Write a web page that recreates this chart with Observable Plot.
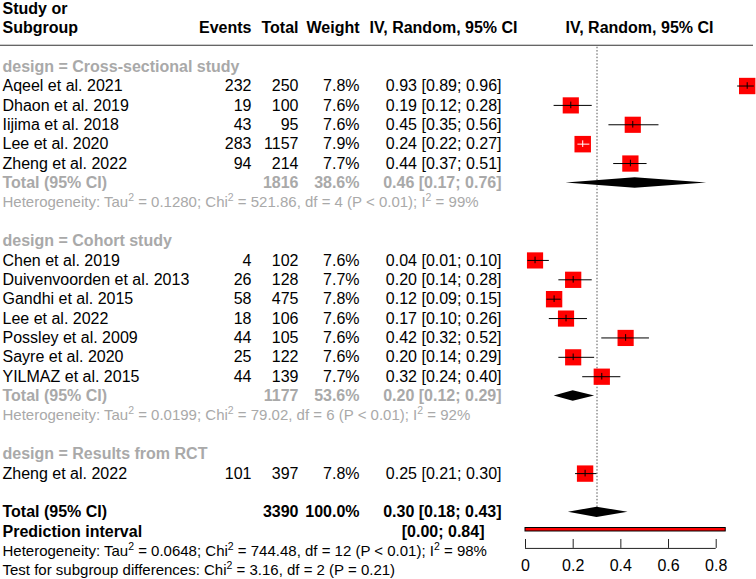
<!DOCTYPE html>
<html><head><meta charset="utf-8">
<script src="https://cdn.jsdelivr.net/npm/d3@7"></script>
<script src="https://cdn.jsdelivr.net/npm/@observablehq/plot@0.6"></script>
<style>body{margin:0;background:#fff;}</style>
</head><body><div id="chart"></div>
<script>
// ---------- data ----------
const groupNames   = ["Cross-sectional study", "Cohort study", "Results from RCT"];
const studyNames   = ["Aqeel et al. 2021", "Dhaon et al. 2019", "Iijima et al. 2018", "Lee et al. 2020", "Zheng et al. 2022",
                      "Chen et al. 2019", "Duivenvoorden et al. 2013", "Gandhi et al. 2015", "Lee et al. 2022", "Possley et al. 2009", "Sayre et al. 2020", "YILMAZ et al. 2015",
                      "Zheng et al. 2022"];
const studyGroup   = [0,0,0,0,0, 1,1,1,1,1,1,1, 2];
const studyEvents  = [232, 19, 43, 283, 94, 4, 26, 58, 18, 44, 25, 44, 101];
const studyTotals  = [250, 100, 95, 1157, 214, 102, 128, 475, 106, 105, 122, 139, 397];
const studyWeights = [7.8, 7.6, 7.6, 7.9, 7.7, 7.6, 7.7, 7.8, 7.6, 7.6, 7.6, 7.7, 7.8];
const studyEst     = [0.93, 0.19, 0.45, 0.24, 0.44, 0.04, 0.20, 0.12, 0.17, 0.42, 0.20, 0.32, 0.25];
const studyLower   = [0.89, 0.12, 0.35, 0.22, 0.37, 0.01, 0.14, 0.09, 0.10, 0.32, 0.14, 0.24, 0.21];
const studyUpper   = [0.96, 0.28, 0.56, 0.27, 0.51, 0.10, 0.28, 0.15, 0.26, 0.52, 0.29, 0.40, 0.30];

const groupTotals  = [1816, 1177];
const groupWeights = [38.6, 53.6];
const groupEst     = [0.46, 0.20];
const groupLower   = [0.17, 0.12];
const groupUpper   = [0.76, 0.29];
const groupTau2    = ["0.1280", "0.0199"];
const groupChi2    = ["521.86", "79.02"];
const groupDf      = [4, 6];
const groupP       = ["< 0.01", "< 0.01"];
const groupI2      = [99, 92];

const overallTotal = 3390, overallWeight = "100.0";
const overallEst = 0.30, overallLower = 0.18, overallUpper = 0.43;
const predLower = 0.00, predUpper = 0.84;
const overallTau2 = "0.0648", overallChi2 = "744.48", overallDf = 12, overallP = "< 0.01", overallI2 = 98;
const testChi2 = "3.16", testDf = 2, testP = "0.21";

const tickValues = [0, 0.2, 0.4, 0.6, 0.8];
const tickLabels = ["0", "0.2", "0.4", "0.6", "0.8"];

// ---------- layout ----------
const GREY = "#a9a9a9";
const COL = {label: 2, events: 251, total: 298, weight: 359, effect: 501, pred: 484, ivHead: 517, plotHead: 639};
const AXIS_ROW = 24.86, TICK_TOP = 24.4, LABEL_ROW = 25.76;
const f2 = v => v.toFixed(2);
const ci = (e, l, u) => `${f2(e)} [${f2(l)}; ${f2(u)}]`;

const cells = [];   // text cells
const studies = []; // plotted studies
const diamonds = [];
const cell = (row, text, col, o = {}) => cells.push({row, text, x: COL[col], anchor: o.anchor || (col === "label" ? "start" : "end"),
  weight: o.weight || "normal", color: o.color || "black", size: o.size || 16});

// headers
cell(-3, "Study or", "label", {weight: "bold"});
cell(-2, "Subgroup", "label", {weight: "bold"});
cell(-2, "Events", "events", {weight: "bold"});
cell(-2, "Total", "total", {weight: "bold"});
cell(-2, "Weight", "weight", {weight: "bold"});
cell(-2, "IV, Random, 95% CI", "ivHead", {weight: "bold"});
cell(-2, "IV, Random, 95% CI", "plotHead", {weight: "bold", anchor: "middle"});

let row = 0;
groupNames.forEach((g, gi) => {
  cell(row, "design = " + g, "label", {weight: "bold", color: GREY});
  row++;
  const idx = studyGroup.map((s, i) => s === gi ? i : -1).filter(i => i >= 0);
  idx.forEach(i => {
    cell(row, studyNames[i], "label");
    cell(row, String(studyEvents[i]), "events");
    cell(row, String(studyTotals[i]), "total");
    cell(row, studyWeights[i].toFixed(1) + "%", "weight");
    cell(row, ci(studyEst[i], studyLower[i], studyUpper[i]), "effect");
    studies.push({row, est: studyEst[i], lower: studyLower[i], upper: studyUpper[i], weight: studyWeights[i]});
    row++;
  });
  if (idx.length > 1) {
    const o = {weight: "bold", color: GREY};
    cell(row, "Total (95% CI)", "label", o);
    cell(row, String(groupTotals[gi]), "total", o);
    cell(row, groupWeights[gi].toFixed(1) + "%", "weight", o);
    cell(row, ci(groupEst[gi], groupLower[gi], groupUpper[gi]), "effect", o);
    diamonds.push({row, est: groupEst[gi], lower: groupLower[gi], upper: groupUpper[gi]});
    row++;
    cell(row, `Heterogeneity: Tau² = ${groupTau2[gi]}; Chi² = ${groupChi2[gi]}, df = ${groupDf[gi]} (P ${groupP[gi]}); I² = ${groupI2[gi]}%`, "label", {color: GREY, size: 15});
    row++;
  }
  row++;
});
const overallRow = row;
cell(row, "Total (95% CI)", "label", {weight: "bold"});
cell(row, String(overallTotal), "total", {weight: "bold"});
cell(row, overallWeight + "%", "weight", {weight: "bold"});
cell(row, ci(overallEst, overallLower, overallUpper), "effect", {weight: "bold"});
diamonds.push({row, est: overallEst, lower: overallLower, upper: overallUpper});
row++;
const predRow = row;
cell(row, "Prediction interval", "label", {weight: "bold"});
cell(row, `[${f2(predLower)}; ${f2(predUpper)}]`, "pred", {weight: "bold"});
row++;
cell(row, `Heterogeneity: Tau² = ${overallTau2}; Chi² = ${overallChi2}, df = ${overallDf} (P ${overallP}); I² = ${overallI2}%`, "label", {size: 15});
row++;
cell(row, `Test for subgroup differences: Chi² = ${testChi2}, df = ${testDf} (P = ${testP})`, "label", {size: 15});

// group text cells into marks
const groups = d3.groups(cells, c => [c.x, c.anchor, c.weight, c.color, c.size].join("|"));
const textMarks = groups.map(([k, arr]) => Plot.text(arr, {
  y: "row", text: "text", frameAnchor: "left", dx: arr[0].x, textAnchor: arr[0].anchor,
  fontWeight: arr[0].weight, fill: arr[0].color, fontSize: arr[0].size, lineAnchor: "middle"
}));

const H = 0.27; // diamond half height (rows)
const diamondPts = diamonds.flatMap((d, i) => [
  {z: i, x: d.lower, y1: d.row, y2: d.row},
  {z: i, x: d.est, y1: d.row - H, y2: d.row + H},
  {z: i, x: d.upper, y1: d.row, y2: d.row}
]);

const plot = Plot.plot({
  width: 756, height: 579,
  marginLeft: 0, marginRight: 3, marginTop: 0, marginBottom: 0,
  x: {domain: [0, 0.8], range: [525, 715.7], axis: null},
  y: {domain: [-3, 26], range: [8, 570], axis: null},
  r: {type: "sqrt", domain: [0, 7.9], range: [0, 9.3]},
  style: {fontFamily: "'Liberation Sans', Arial, sans-serif", fontSize: "16px", background: "white", overflow: "visible"},
  marks: [
    Plot.ruleY([-1], {dy: -2, stroke: "#333", strokeWidth: 1.2}),
    Plot.ruleX([overallEst], {y1: -1, y2: overallRow, stroke: "#555", strokeDasharray: "1.5,1.8"}),
    Plot.dot(studies, {x: "est", y: "row", r: "weight", symbol: "square", fill: "#ff0000", stroke: "none"}),
    Plot.ruleY(studies, {x1: "lower", x2: "upper", y: "row", stroke: d => (d.upper - d.lower < 0.055 ? "white" : "black"), strokeWidth: 1}),
    Plot.ruleX(studies, {x: "est", y1: d => d.row - 0.17, y2: d => d.row + 0.17, stroke: d => (d.upper - d.lower < 0.055 ? "white" : "black"), strokeWidth: 1}),
    Plot.areaY(diamondPts, {x: "x", y1: "y1", y2: "y2", z: "z", fill: "black", curve: "linear"}),
    Plot.rect([{lo: predLower, hi: predUpper, row: predRow}], {x1: "lo", x2: "hi", y1: d => d.row - 0.09, y2: d => d.row + 0.09, dy: -2, fill: "#ff0000", stroke: "black", strokeWidth: 1}),
    Plot.ruleY([AXIS_ROW], {x1: d3.min(tickValues), x2: d3.max(tickValues), stroke: "#222"}),
    Plot.ruleX(tickValues, {x: d => d, y1: TICK_TOP, y2: AXIS_ROW, stroke: "#222"}),
    Plot.text(tickValues, {x: d => d, y: LABEL_ROW, text: (d, i) => tickLabels[i], fontSize: 16, lineAnchor: "middle"}),
    ...textMarks
  ]
});
document.getElementById("chart").appendChild(plot);

// real superscripts
const NS = "http://www.w3.org/2000/svg";
plot.querySelectorAll("text").forEach(t => {
  if (t.children.length || !t.textContent.includes("²")) return;
  const parts = t.textContent.split("²");
  t.textContent = "";
  parts.forEach((p, i) => {
    const a = document.createElementNS(NS, "tspan");
    a.textContent = p;
    if (i > 0) a.setAttribute("dy", "6");
    t.appendChild(a);
    if (i < parts.length - 1) {
      const s = document.createElementNS(NS, "tspan");
      s.textContent = "2";
      s.setAttribute("dy", "-6");
      s.setAttribute("font-size", "10.5");
      t.appendChild(s);
    }
  });
});
</script>
</body></html>
